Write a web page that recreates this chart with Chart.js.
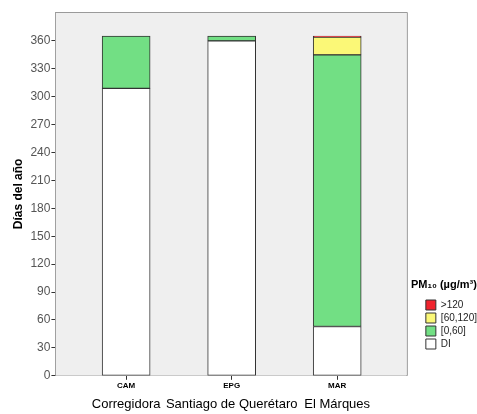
<!DOCTYPE html>
<html>
<head>
<meta charset="utf-8">
<script src="https://cdn.jsdelivr.net/npm/chart.js@4"></script>
<style>
  html, body { margin: 0; padding: 0; background: #fff; }
  #wrap { width: 477px; height: 414px; }
</style>
</head>
<body>
<div id="wrap"><canvas id="c" width="477" height="414"></canvas></div>
<script>
var stations = ['CAM', 'EPG', 'MAR'];
var regions = ['Corregidora', 'Santiago de Querétaro', 'El Márques'];
var yTicks = [0, 30, 60, 90, 120, 150, 180, 210, 240, 270, 300, 330, 360];

// days per category (stacked from bottom)
var di = [309, 360, 53];
var range0to60 = [56, 5, 292];
var range60to120 = [0, 0, 19];
var over120 = [0, 0, 1];

var legendTitle = 'PM₁₀ (µg/m³)';
var fontFam = 'Arial, "Liberation Sans", sans-serif';

function pts(arr) {
  return arr.map(function (v, i) { return { x: i, y: v }; });
}

function catTicks(scale) {
  scale.ticks = stations.map(function (s, i) { return { value: i }; });
}

// grey plot background + frame
var plotFrame = {
  id: 'plotFrame',
  beforeDatasetsDraw: function (chart) {
    var a = chart.chartArea, ctx = chart.ctx;
    ctx.save();
    ctx.fillStyle = '#efefef';
    ctx.fillRect(a.left, a.top, a.right - a.left, a.bottom - a.top);
    ctx.strokeStyle = '#9a9a9a';
    ctx.lineWidth = 1;
    ctx.beginPath();
    ctx.moveTo(a.left, a.top + 0.5);
    ctx.lineTo(a.right + 0.5, a.top + 0.5);
    ctx.lineTo(a.right + 0.5, a.bottom);
    ctx.stroke();
    ctx.restore();
  }
};

// legend next to the lower part of the plot, with its heading set out to the left
var legendPos = {
  id: 'legendPos',
  afterLayout: function (chart) {
    var lg = chart.legend;
    var h = lg.bottom - lg.top, w = lg.right - lg.left;
    lg.top = 297;
    lg.bottom = 297 + h;
    lg.left = chart.chartArea.right + 16;
    lg.right = lg.left + w;
  },
  afterDraw: function (chart) {
    var lg = chart.legend, ctx = chart.ctx;
    ctx.save();
    ctx.font = 'bold 11px ' + fontFam;
    ctx.fillStyle = '#000';
    ctx.textAlign = 'center';
    ctx.textBaseline = 'middle';
    ctx.fillText(legendTitle, chart.chartArea.right + 37, lg.top - 12);
    ctx.restore();
  }
};

new Chart(document.getElementById('c'), {
  type: 'bar',
  data: {
    datasets: [
      { label: 'DI', data: pts(di), backgroundColor: '#ffffff' },
      { label: '[0,60]', data: pts(range0to60), backgroundColor: '#72df84' },
      { label: '[60,120]', data: pts(range60to120), backgroundColor: '#fbf877' },
      { label: '>120', data: pts(over120), backgroundColor: '#f0232d' }
    ]
  },
  options: {
    responsive: false,
    animation: false,
    layout: { padding: { top: 12, bottom: -3, left: 11, right: 6 } },
    datasets: {
      bar: { barThickness: 48, borderColor: '#333333', borderWidth: 1, borderSkipped: false }
    },
    plugins: {
      tooltip: { enabled: false },
      legend: {
        position: 'right',
        align: 'start',
        reverse: true,
        labels: {
          boxWidth: 10,
          boxHeight: 10,
          padding: 3,
          color: '#222',
          font: { family: fontFam, size: 10 }
        }
      }
    },
    scales: {
      x: {
        type: 'linear',
        stacked: true,
        offset: false,
        min: -0.67,
        max: 2.66,
        afterBuildTicks: catTicks,
        grid: { drawOnChartArea: false, offset: false, color: '#333', tickLength: 4 },
        border: { color: '#333' },
        ticks: {
          padding: 1,
          maxRotation: 0,
          autoSkip: false,
          color: '#000',
          font: { family: fontFam, size: 8, weight: 'bold' },
          callback: function (v) { return stations[v]; }
        }
      },
      x2: {
        type: 'linear',
        position: 'bottom',
        offset: false,
        min: -0.67,
        max: 2.66,
        afterBuildTicks: catTicks,
        grid: { display: false, drawTicks: false, offset: false },
        border: { display: false },
        ticks: {
          padding: 5,
          maxRotation: 0,
          autoSkip: false,
          color: '#000',
          font: { family: fontFam, size: 13 },
          callback: function (v) { return regions[v]; }
        }
      },
      y: {
        stacked: true,
        min: 0,
        max: 391,
        afterBuildTicks: function (scale) {
          scale.ticks = yTicks.map(function (v) { return { value: v }; });
        },
        grid: { drawOnChartArea: false, color: '#333', tickLength: 4 },
        border: { color: '#333' },
        ticks: {
          padding: 1,
          color: '#555',
          font: { family: fontFam, size: 12 }
        },
        title: {
          display: true,
          text: 'Días del año',
          color: '#000',
          font: { family: fontFam, size: 12, weight: 'bold' },
          padding: { top: 0, bottom: 4 }
        }
      }
    }
  },
  plugins: [plotFrame, legendPos]
});
</script>
</body>
</html>
